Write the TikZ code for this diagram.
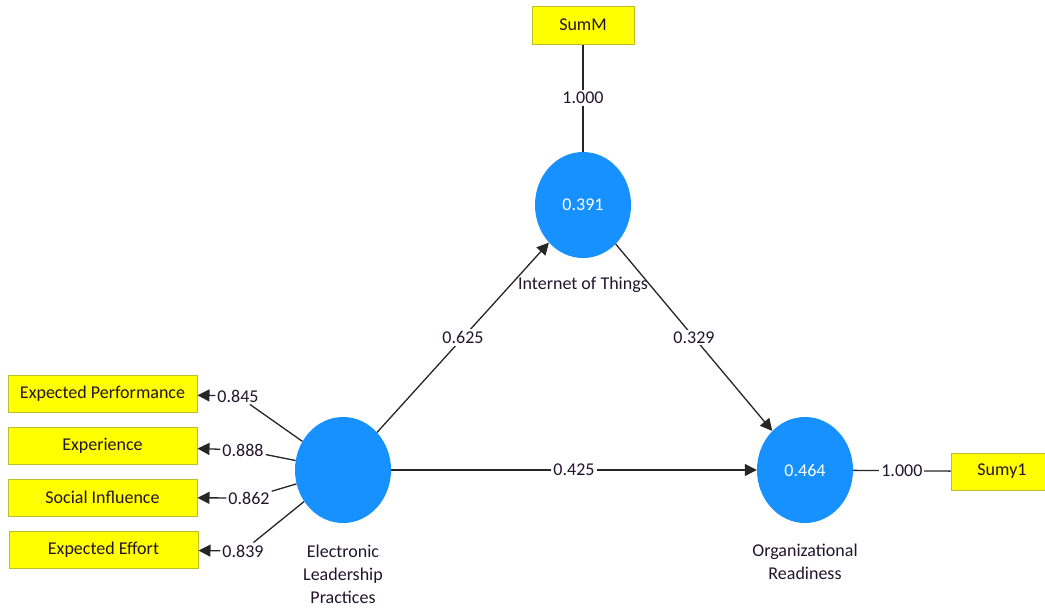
\documentclass[tikz,border=0pt]{standalone}
\usepackage{fontspec}
\setmainfont{Carlito}
\usetikzlibrary{shapes.geometric,arrows.meta}
\definecolor{lvblue}{RGB}{22,145,255}
\definecolor{indyellow}{RGB}{255,255,0}
\definecolor{indedge}{RGB}{190,190,40}
\definecolor{txt}{RGB}{35,20,45}
\begin{document}
\begin{tikzpicture}[x=1pt,y=-1pt,
  font=\fontsize{18}{23}\selectfont, text=txt,
  latent/.style={ellipse, fill=lvblue, minimum width=96pt, minimum height=106pt, inner sep=0pt, text=white},
  indicator/.style={rectangle, draw=indedge, fill=indyellow, line width=1pt, minimum height=37pt, inner sep=0pt},
  coef/.style={fill=white, inner sep=2pt},
  link/.style={line width=1.3pt, draw=black!85},
  tip/.style={-{Triangle[length=12pt,width=12pt]}},
  caption/.style={align=center}]
  \useasboundingbox (0,0) rectangle (1045,608);
  \clip (0,0) rectangle (1045,608);
  \fill[white] (0,0) rectangle (1045,608);

  % latent variables
  \node[latent] (iot) at (583,205) {0.391};
  \node[latent] (elp) at (343,470) {};
  \node[latent] (org) at (805,470) {0.464};

  % latent variable names
  \node[caption] (iotcap) at (583,285) {Internet of Things};
  \node[caption] (elpcap) at (343,574) {Electronic\\Leadership\\Practices};
  \node[caption] (orgcap) at (805,562) {Organizational\\Readiness};

  % indicators
  \node[indicator, minimum width=189pt] (ep) at (102.5,393.5) {Expected Performance};
  \node[indicator, minimum width=189pt] (ex) at (102.5,445.5) {Experience};
  \node[indicator, minimum width=189pt] (si) at (102.5,497.5) {Social Influence};
  \node[indicator, minimum width=189pt] (ee) at (103.5,549.5) {Expected Effort};
  \node[indicator, minimum width=102pt, minimum height=38pt] (summ) at (583,25) {SumM};
  \node[indicator, minimum width=102pt] (sumy) at (1002,471.5) {Sumy1};

  % outer loadings of the formative block
  \node[coef] (c1) at (238,396) {0.845};
  \node[coef] (c2) at (243,450) {0.888};
  \node[coef] (c3) at (249,498) {0.862};
  \node[coef] (c4) at (243,551) {0.839};
  \draw[link] (elp) -- (c1);
  \draw[link] (elp) -- (c2);
  \draw[link] (elp) -- (c3);
  \draw[link] (elp) -- (c4);
  \draw[link,tip] (c1) -- (ep);
  \draw[link,tip] (c2) -- (ex);
  \draw[link,tip] (c3) -- (si);
  \draw[link,tip] (c4) -- (ee);

  % structural paths
  \draw[link,tip] (elp) -- node[coef] (p1) {0.625} (iot);
  \draw[link,tip] (iot) -- node[coef] (p2) {0.329} (org);
  \draw[link,tip] (elp) -- node[coef] (p3) {0.425} (org);

  % single-item constructs
  \draw[link] (summ) -- node[coef] (m1) {1.000} (iot);
  \draw[link] (org) -- node[coef] (m2) {1.000} (sumy);
\end{tikzpicture}
\end{document}
